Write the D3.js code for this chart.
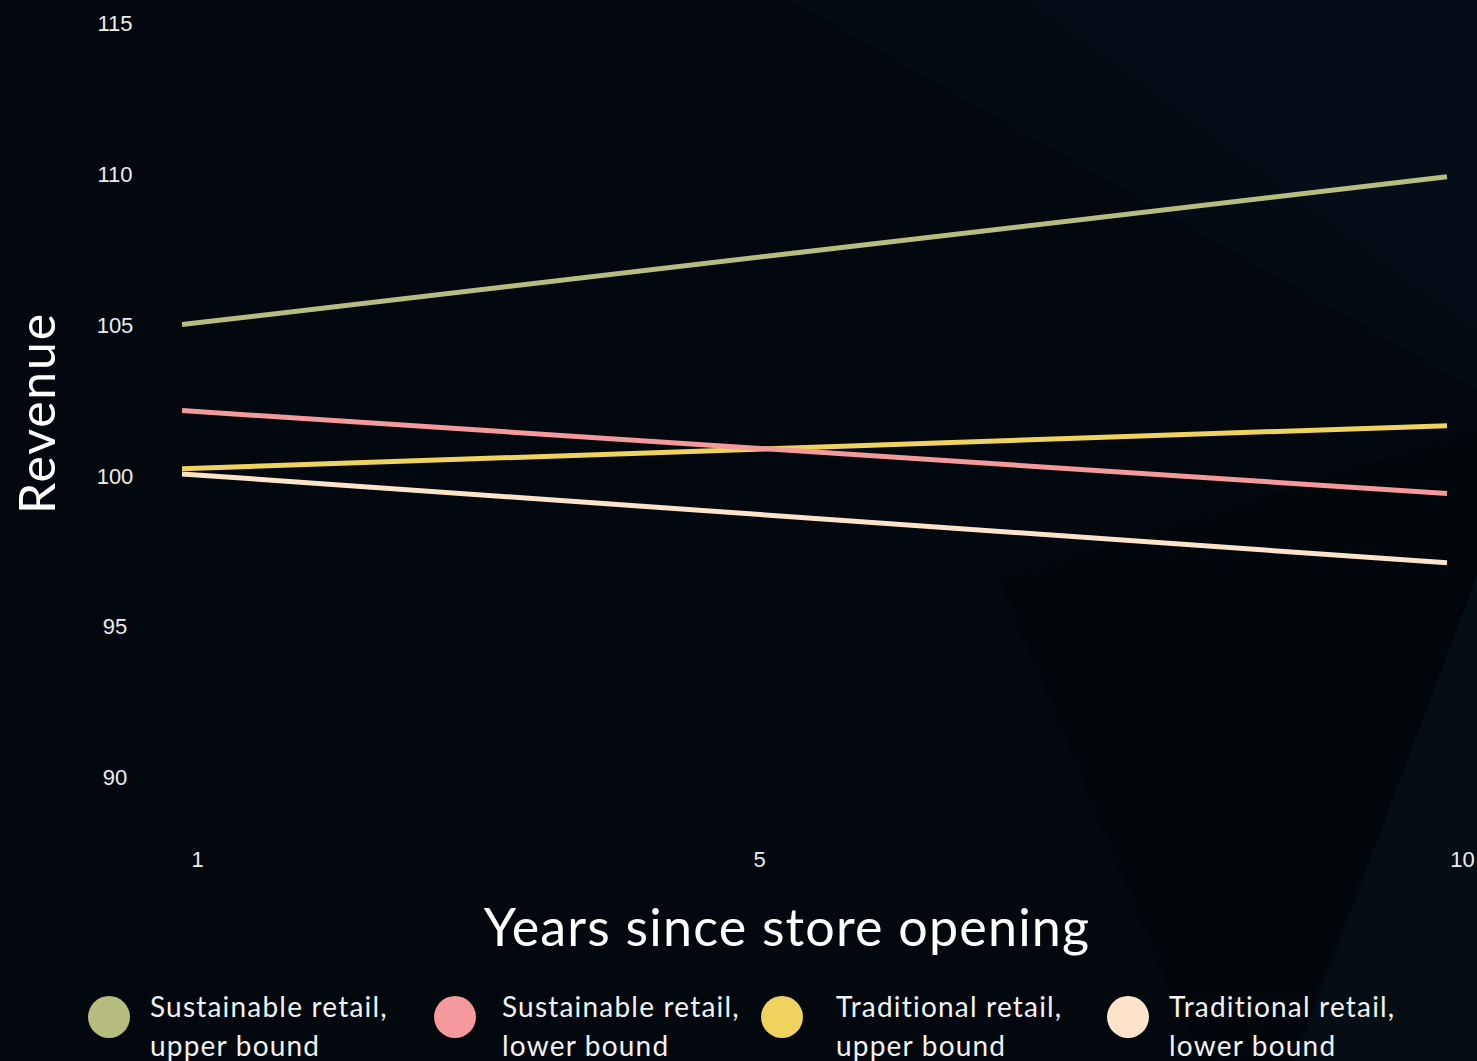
<!DOCTYPE html>
<html>
<head>
<meta charset="utf-8">
<script src="https://cdn.jsdelivr.net/npm/d3@7"></script>
<style>
  html, body { margin: 0; padding: 0; background: #02080e; }
  svg { display: block; }
</style>
</head>
<body>
<svg id="chart" width="1477" height="1061"></svg>
<script>
// ---- data ----
const years = [1, 10];
const sustainableUpper = [105.0, 109.9];
const sustainableLower = [102.15, 99.4];
const traditionalUpper = [100.22, 101.65];
const traditionalLower = [100.05, 97.1];
const seriesNames = [
  ["Sustainable retail,", "upper bound"],
  ["Sustainable retail,", "lower bound"],
  ["Traditional retail,", "upper bound"],
  ["Traditional retail,", "lower bound"]
];
const seriesColors = ["#b6bd7e", "#f4999c", "#f0d35e", "#fde3c9"];
const yTicks = [90, 95, 100, 105, 110, 115];
const xTicks = [1, 5, 10];

const W = 1477, H = 1061;
const svg = d3.select("#chart");

// ---- background shading ----
const bg = svg.append("g");
bg.append("rect").attr("width", W).attr("height", H).attr("fill", "#02080e");
bg.append("polygon").attr("points", "790,0 1477,0 1477,390").attr("fill", "#040c13");
bg.append("polygon").attr("points", "1030,0 1477,0 1477,330").attr("fill", "#050e16");
bg.append("polygon").attr("points", "1000,580 1477,430 1477,575 1290,1061 1200,1061").attr("fill", "#01060b");
bg.append("polygon").attr("points", "1477,575 1477,1061 1295,1061").attr("fill", "#050d15");

// ---- scales ----
const x = d3.scaleLinear().domain([1, 10]).range([182, 1447]);
const y = d3.scaleLinear().domain([90, 115]).range([777, 23]);

// ---- y axis labels ----
const yAxis = d3.axisLeft(y).tickValues(yTicks).tickSize(0).tickPadding(0);
const yg = svg.append("g").attr("transform", "translate(115,0)").call(yAxis);
yg.select(".domain").remove();
yg.selectAll("text")
  .attr("text-anchor", "middle")
  .attr("x", 0)
  .attr("dy", "0.35em")
  .style("font-family", "'Liberation Sans', Arial, sans-serif")
  .style("font-size", "22px")
  .attr("fill", "#ececec");

// ---- x axis labels ----
const xAxis = d3.axisBottom(x).tickValues(xTicks).tickSize(0).tickPadding(0);
const xg = svg.append("g").attr("transform", "translate(15,859)").call(xAxis);
xg.select(".domain").remove();
xg.selectAll("text")
  .attr("y", 0)
  .attr("dy", "0.35em")
  .style("font-family", "'Liberation Sans', Arial, sans-serif")
  .style("font-size", "22px")
  .attr("fill", "#ececec");

// ---- axis titles ----
svg.append("text")
  .attr("transform", "translate(55,413) rotate(-90)")
  .attr("text-anchor", "middle")
  .style("font-family", "Lato, sans-serif")
  .style("font-size", "50px")
  .style("letter-spacing", "1.8px")
  .attr("fill", "#ffffff")
  .text("Revenue");

svg.append("text")
  .attr("x", 787).attr("y", 946)
  .attr("text-anchor", "middle")
  .style("font-family", "Lato, sans-serif")
  .style("font-size", "52px")
  .style("letter-spacing", "1.2px")
  .attr("fill", "#ffffff")
  .text("Years since store opening");

// ---- lines ----
const allSeries = [sustainableUpper, sustainableLower, traditionalUpper, traditionalLower];
const line = d3.line().x((d, i) => x(years[i])).y(d => y(d));
const order = [0, 3, 2, 1];
svg.append("g").selectAll("path")
  .data(order)
  .join("path")
  .attr("d", k => line(allSeries[k]))
  .attr("fill", "none")
  .attr("stroke", k => seriesColors[k])
  .attr("stroke-width", 5)
  .attr("stroke-linecap", "butt");

// ---- legend ----
const legendX = [109, 455, 782, 1128];
const legendTextX = [150, 502, 836, 1169];
const lg = svg.append("g").selectAll("g")
  .data(seriesNames)
  .join("g");
lg.append("circle")
  .attr("cx", (d, i) => legendX[i]).attr("cy", 1017)
  .attr("r", 21).attr("fill", (d, i) => seriesColors[i]);
lg.each(function(d, i) {
  d3.select(this).append("text")
    .style("font-family", "Lato, sans-serif")
    .style("font-size", "28px")
    .style("letter-spacing", "1.2px")
    .attr("fill", "#f2f2f2")
    .selectAll("tspan")
    .data(d)
    .join("tspan")
    .attr("x", legendTextX[i])
    .attr("y", (t, j) => 1017 + j * 39)
    .text(t => t);
});
</script>
</body>
</html>
